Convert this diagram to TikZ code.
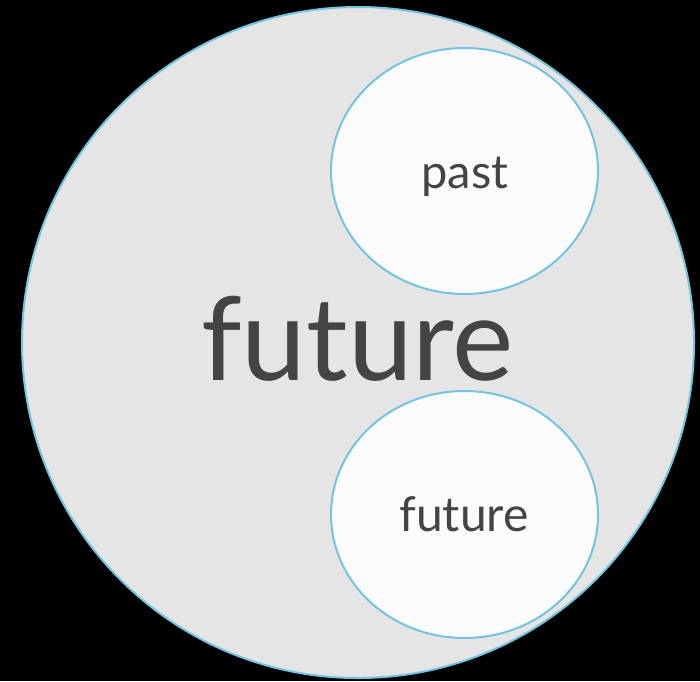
\documentclass[tikz,border=0pt]{standalone}
\usepackage{fontspec}
\setmainfont{Lato}
\definecolor{bord}{HTML}{72C4DF}
\definecolor{bigfill}{HTML}{E5E5E5}
\definecolor{smallfill}{HTML}{FBFBFB}
\definecolor{txt}{HTML}{444444}
\begin{document}
\begin{tikzpicture}[x=1pt,y=-1pt,
  lbl/.style={text=txt,inner sep=0pt,anchor=base}]
\fill[black] (0,0) rectangle (700,681);
\useasboundingbox (0,0) rectangle (700,681);
\draw[draw=bord,line width=2pt,fill=bigfill] (358,342.5) ellipse [x radius=336, y radius=335.5];
\draw[draw=bord,line width=2pt,fill=smallfill] (464.5,171) ellipse [x radius=133.5, y radius=123];
\draw[draw=bord,line width=2pt,fill=smallfill] (464.5,514.5) ellipse [x radius=133.5, y radius=123.5];
\node[lbl] (big) at (357.5,380) {\fontsize{116}{116}\selectfont future};
\node[lbl] (past) at (465,188) {\fontsize{47}{47}\selectfont past};
\node[lbl] (small) at (464,531) {\fontsize{48}{48}\selectfont future};
\end{tikzpicture}
\end{document}
